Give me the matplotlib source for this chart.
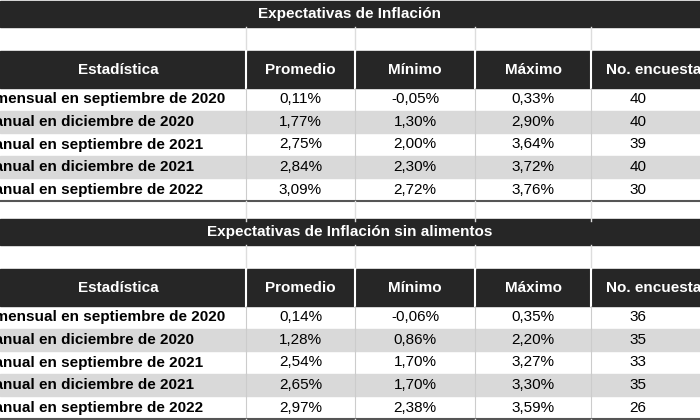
import matplotlib.pyplot as plt
from matplotlib.patches import Rectangle

title1 = "Expectativas de Inflación"
title2 = "Expectativas de Inflación sin alimentos"
headers = ["Estadística", "Promedio", "Mínimo", "Máximo", "No. encuestas"]
stats = ["Inflación mensual en septiembre de 2020",
         "Inflación anual en diciembre de 2020",
         "Inflación anual en septiembre de 2021",
         "Inflación anual en diciembre de 2021",
         "Inflación anual en septiembre de 2022"]

promedio1 = ["0,11%", "1,77%", "2,75%", "2,84%", "3,09%"]
minimo1 = ["-0,05%", "1,30%", "2,00%", "2,30%", "2,72%"]
maximo1 = ["0,33%", "2,90%", "3,64%", "3,72%", "3,76%"]
encuestas1 = [40, 40, 39, 40, 30]

promedio2 = ["0,14%", "1,28%", "2,54%", "2,65%", "2,97%"]
minimo2 = ["-0,06%", "0,86%", "1,70%", "1,70%", "2,38%"]
maximo2 = ["0,35%", "2,20%", "3,27%", "3,30%", "3,59%"]
encuestas2 = [36, 35, 33, 35, 26]

dark = "#262626"
grey = "#d9d9d9"
cols = [-120, 246, 355, 475, 591, 760]
fnt = "Liberation Sans"

fig = plt.figure(figsize=(7, 4.2), dpi=100)
ax = fig.add_axes([0, 0, 1, 1])
ax.set_xlim(0, 700)
ax.set_ylim(420, 0)
ax.axis("off")


def block(y0, title, prom, mn, mx, enc):
    # title bar
    ax.add_patch(Rectangle((0, y0), 700, 26, color=dark))
    ax.text(350, y0 + 13, title, color="white", ha="center", va="center",
            fontsize=11, fontweight="bold", family=fnt)
    for x in cols[1:-1]:
        ax.plot([x, x], [y0 + 26, y0 + 50], color="#dddddd", lw=1)
    # header
    hy = y0 + 50
    ax.add_patch(Rectangle((0, hy), 700, 37, color=dark))
    for i, h in enumerate(headers):
        cx = 118 if i == 0 else (cols[i] + cols[i + 1]) / 2
        if i == 4:
            cx = 658
        ax.text(cx, hy + 19, h, color="white", ha="center", va="center",
                fontsize=11, fontweight="bold", family=fnt)
        if i > 0:
            ax.plot([cols[i], cols[i]], [hy, hy + 37], color="white", lw=1.5)
    ry = hy + 37
    rh = 22.6
    for r in range(5):
        y = ry + r * rh
        if r % 2 == 1:
            ax.add_patch(Rectangle((0, y), 700, rh, color=grey))
        for x in cols[1:-1]:
            ax.plot([x, x], [y, y + rh], color="#cccccc", lw=0.8)
        ax.text(-73, y + rh / 2, stats[r], ha="left", va="center",
                fontsize=11, fontweight="bold", family=fnt)
        vals = [prom[r], mn[r], mx[r], str(enc[r])]
        for j, v in enumerate(vals):
            cx = (cols[j + 1] + cols[j + 2]) / 2
            if j == 3:
                cx = 638
            ax.text(cx, y + rh / 2, v, ha="center", va="center",
                    fontsize=11, family=fnt)
    ax.plot([0, 700], [ry + 5 * rh, ry + 5 * rh], color="#555555", lw=1.5)
    for x in cols[1:-1]:
        ax.plot([x, x], [ry + 5 * rh, ry + 5 * rh + 20], color="#dddddd", lw=1)


block(1, title1, promedio1, minimo1, maximo1, encuestas1)
block(219, title2, promedio2, minimo2, maximo2, encuestas2)

fig.savefig("out.png", dpi=100)
